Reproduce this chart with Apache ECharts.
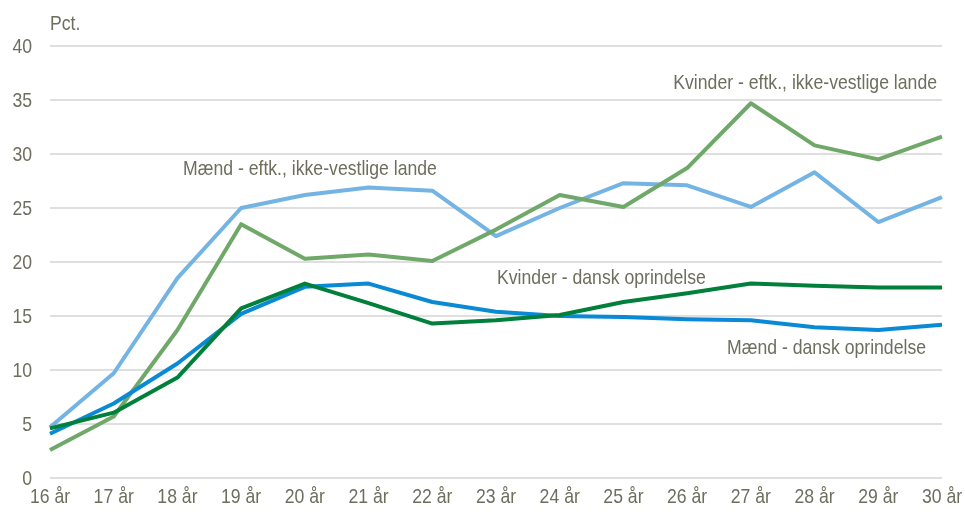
<!DOCTYPE html>
<html><head><meta charset="utf-8">
<script src="https://cdn.jsdelivr.net/npm/echarts@6/dist/echarts.min.js"></script>
<style>html,body{margin:0;padding:0;background:#fff}#c{width:965px;height:512px}</style>
</head><body><div id="c"></div>
<script>
const categories = ['16 år','17 år','18 år','19 år','20 år','21 år','22 år','23 år','24 år','25 år','26 år','27 år','28 år','29 år','30 år'];
const maendEftk = [4.7, 9.7, 18.5, 25.0, 26.2, 26.9, 26.6, 22.4, 25.0, 27.3, 27.1, 25.1, 28.3, 23.7, 26.0];
const kvinderEftk = [2.6, 5.7, 13.7, 23.5, 20.3, 20.7, 20.1, 23.0, 26.2, 25.1, 28.7, 34.7, 30.8, 29.5, 31.6];
const maendDansk = [4.1, 6.9, 10.6, 15.2, 17.7, 18.0, 16.3, 15.4, 15.0, 14.9, 14.7, 14.6, 13.95, 13.7, 14.2];
const kvinderDansk = [4.6, 6.05, 9.3, 15.7, 18.0, 16.2, 14.3, 14.6, 15.1, 16.3, 17.1, 18.0, 17.8, 17.65, 17.65];
const yTicks = [0, 5, 10, 15, 20, 25, 30, 35, 40];

const txt = '#6e6e5e';
const font = '"Liberation Sans", Arial, sans-serif';
const FS = 21, SX = 0.84;
const chart = echarts.init(document.getElementById('c'));
function s(name, data, color, z) {
  return { name, type: 'line', data, symbol: 'none', z,
    lineStyle: { color, width: 4, join: 'round' }, animation: false };
}
chart.setOption({
  animation: false,
  grid: { left: 50, right: 23, top: 46, bottom: 34, containLabel: false, outerBoundsMode: 'none' },
  xAxis: { type: 'category', data: categories, boundaryGap: false,
    axisLine: { show: false }, axisTick: { show: false }, axisLabel: { show: false } },
  yAxis: { type: 'value', min: yTicks[0], max: yTicks[yTicks.length-1], interval: 5,
    axisLine: { show: false }, axisTick: { show: false }, axisLabel: { show: false },
    splitLine: { lineStyle: { color: '#d4d4d4', width: 1.5 } } },
  series: [
    s('Mænd - eftk., ikke-vestlige lande', maendEftk, '#74b4e4', 2),
    s('Kvinder - eftk., ikke-vestlige lande', kvinderEftk, '#70a86a', 3),
    s('Mænd - dansk oprindelse', maendDansk, '#0a8ad4', 4),
    s('Kvinder - dansk oprindelse', kvinderDansk, '#00803a', 5)
  ]
});
function t(text, x, y, align) {
  return { type: 'text', x, y, scaleX: SX, silent: true,
    style: { text, fill: txt, font: FS + 'px ' + font, align: align || 'left', verticalAlign: 'middle' } };
}
const g = [];
const y0 = chart.convertToPixel({ yAxisIndex: 0 }, 0);
categories.forEach((c, i) => {
  const x = chart.convertToPixel({ xAxisIndex: 0 }, i);
  g.push(t(c, x, y0 + 19, 'center'));
});
yTicks.forEach(v => {
  const y = chart.convertToPixel({ yAxisIndex: 0 }, v);
  g.push(t(String(v), 32, y + 1, 'right'));
});
g.push(t('Pct.', 50, 24));
g.push(t('Mænd - eftk., ikke-vestlige lande', 183, 169));
g.push(t('Kvinder - eftk., ikke-vestlige lande', 937, 83, 'right'));
g.push(t('Kvinder - dansk oprindelse', 497, 278));
g.push(t('Mænd - dansk oprindelse', 727, 348));
chart.setOption({ graphic: g });
</script></body></html>
